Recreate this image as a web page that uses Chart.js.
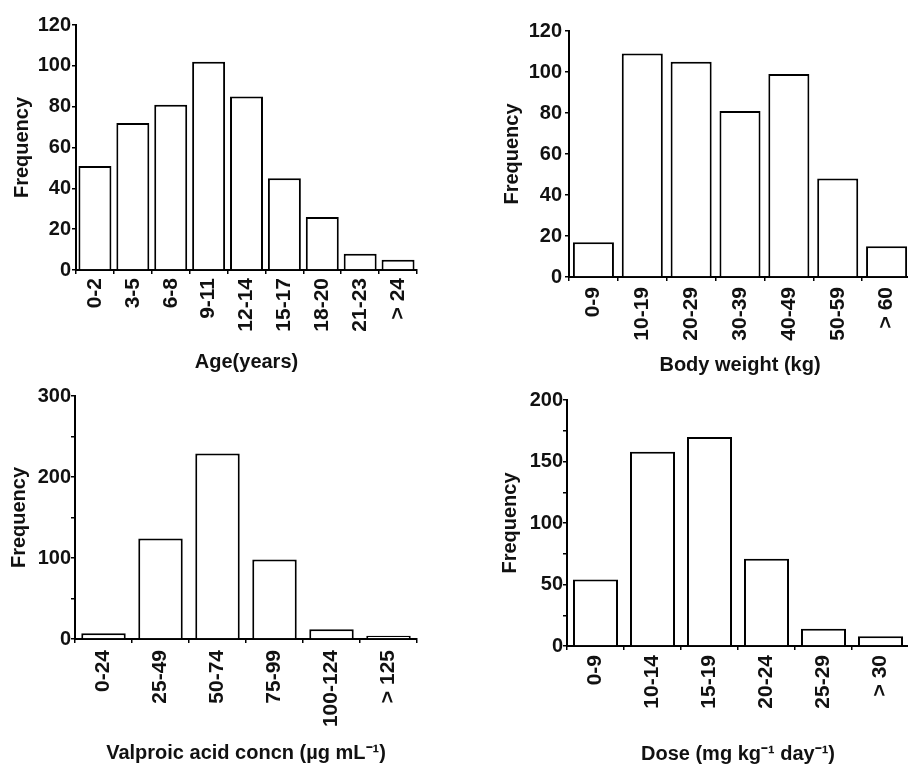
<!DOCTYPE html>
<html>
<head>
<meta charset="utf-8">
<script src="https://cdn.jsdelivr.net/npm/chart.js@4.4.1/dist/chart.umd.min.js"></script>
<style>
  body { margin: 0; background: #fff; overflow: hidden; width: 908px; height: 766px; position: relative; }
  canvas { position: absolute; }
</style>
</head>
<body>
<canvas id="ageChart" width="454" height="383" style="left:0;top:0"></canvas>
<canvas id="weightChart" width="466" height="383" style="left:454px;top:0"></canvas>
<canvas id="concChart" width="454" height="383" style="left:0;top:383px"></canvas>
<canvas id="doseChart" width="466" height="383" style="left:454px;top:383px"></canvas>
<script>
const ageLabels = ["0-2", "3-5", "6-8", "9-11", "12-14", "15-17", "18-20", "21-23", "> 24"];
const ageFreq = [51, 72, 81, 102, 85, 45, 26, 8, 5];

const weightLabels = ["0-9", "10-19", "20-29", "30-39", "40-49", "50-59", "> 60"];
const weightFreq = [17, 109, 105, 81, 99, 48, 15];

const concLabels = ["0-24", "25-49", "50-74", "75-99", "100-124", "> 125"];
const concFreq = [7, 124, 229, 98, 12, 4];

const doseLabels = ["0-9", "10-14", "15-19", "20-24", "25-29", "> 30"];
const doseFreq = [54, 158, 170, 71, 14, 8];

Chart.defaults.font.family = "'Liberation Sans', Arial, sans-serif";
Chart.defaults.font.size = 20;
Chart.defaults.font.weight = "bold";
Chart.defaults.color = "#111";

// one histogram panel; p holds the layout numbers for that panel
function histogram(id, labels, values, xTitle, p) {
  return new Chart(document.getElementById(id), {
    type: "bar",
    data: {
      labels: labels,
      datasets: [{
        data: values,
        backgroundColor: "#fff",
        borderColor: "#000",
        borderWidth: 2,
        barPercentage: p.bar,
        categoryPercentage: 1
      }]
    },
    options: {
      responsive: false,
      animation: false,
      layout: { padding: { left: 0, right: p.right, top: p.top, bottom: 0 } },
      plugins: { legend: { display: false }, tooltip: { enabled: false } },
      scales: {
        x: {
          afterFit: s => { s.height = p.xh; },
          grid: { drawOnChartArea: false, tickLength: 4, color: "#000", lineWidth: 1.5 },
          border: { color: "#000", width: 2 },
          ticks: { autoSkip: false, minRotation: 90, maxRotation: 90, padding: p.xpad, font: { size: 21 } },
          title: { display: true, text: xTitle, padding: { top: 0, bottom: p.xtb } }
        },
        y: {
          min: 0,
          max: p.max,
          afterFit: s => { s.width = p.yw; },
          grid: { drawOnChartArea: false, tickLength: 4, color: "#000", lineWidth: 1.5 },
          border: { color: "#000", width: 2 },
          ticks: {
            stepSize: p.minor,
            padding: p.ypad,
            callback: v => (v % p.major === 0 ? v : "")
          },
          title: { display: true, text: "Frequency", padding: { top: p.ytp, bottom: 0 } }
        }
      }
    }
  });
}

const ageChart = histogram("ageChart", ageLabels, ageFreq, "Age(years)",
  { bar: 0.87, right: 37, top: 25, xh: 113, xpad: 4, xtb: 9, yw: 76, ypad: 1, ytp: 10, max: 120, minor: 10, major: 20 });

const weightChart = histogram("weightChart", weightLabels, weightFreq, "Body weight (kg)",
  { bar: 0.84, right: 9, top: 31, xh: 106, xpad: 6, xtb: 6, yw: 115, ypad: 3, ytp: 46, max: 120, minor: 10, major: 20 });

const concChart = histogram("concChart", concLabels, concFreq, "Valproic acid concn (\u00b5g mL\u207b\u00b9)",
  { bar: 0.78, right: 37, top: 13, xh: 127, xpad: 7, xtb: 1, yw: 75, ypad: 0, ytp: 7, max: 300, minor: 50, major: 100 });

const doseChart = histogram("doseChart", doseLabels, doseFreq, "Dose (mg kg\u207b\u00b9 day\u207b\u00b9)",
  { bar: 0.79, right: 11, top: 17, xh: 120, xpad: 5, xtb: 0, yw: 113, ypad: 0, ytp: 44, max: 200, minor: 25, major: 50 });
</script>
</body>
</html>
